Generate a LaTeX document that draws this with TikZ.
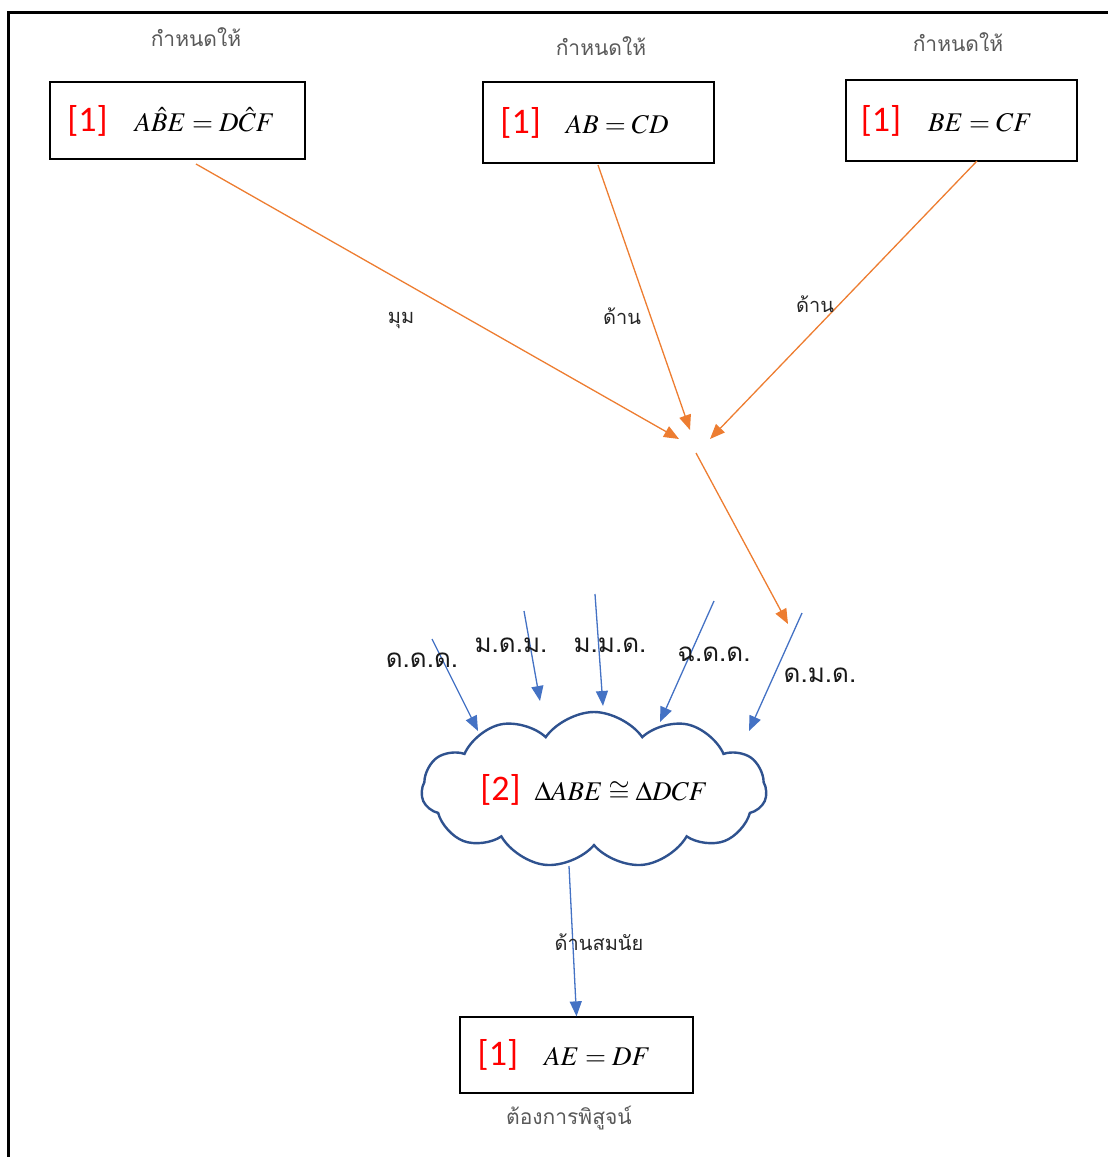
\documentclass[tikz,border=0pt]{standalone}
\usepackage{mathptmx}
\usepackage[no-math]{fontspec}
\usetikzlibrary{arrows.meta,shapes.symbols}
\newfontfamily\thaifont[Script=Thai]{Loma}
\newfontfamily\tagfont{Carlito}
\definecolor{orangeline}{HTML}{ED7D31}
\definecolor{blueline}{HTML}{4472C4}
\definecolor{cloudline}{HTML}{2F528F}
\definecolor{notegray}{HTML}{595959}
\newcommand{\steptag}[1]{{\tagfont\fontsize{36}{40}\selectfont\color{red}[#1]}}
\newcommand{\eqtext}[1]{{\fontsize{27}{32}\selectfont$#1$}}

\tikzset{
  givenbox/.style={draw, line width=1.3pt, inner sep=0pt},
  note/.style={font=\thaifont\fontsize{21}{24}\selectfont, text=notegray},
  edgelabel/.style={font=\thaifont\fontsize{20}{24}\selectfont, text=black!85},
  rulelabel/.style={font=\thaifont\fontsize{26}{30}\selectfont, text=black!90},
  oarrow/.style={draw=orangeline, line width=1.3pt, -{Triangle[length=15pt,width=12pt]}},
  barrow/.style={draw=blueline, line width=1.3pt, -{Triangle[length=15pt,width=12pt]}},
}

\begin{document}
\begin{tikzpicture}[x=1pt,y=-1pt]
\useasboundingbox (0,0) rectangle (1108,1157);
% outer frame
\draw[line width=3pt] (8,1157) -- (8,12) -- (1108,12);

% given facts (a trailing kern moves each statement slightly left of centre)
\node[givenbox, minimum width=255pt, minimum height=77pt] (angle) at (177.5,120.5)
  {\steptag{1}\hspace{27pt}\eqtext{A\hat{B}E = D\hat{C}F}\kern13pt\null};
\node[givenbox, minimum width=231pt, minimum height=81pt] (sideAB) at (598.5,122.5)
  {\steptag{1}\hspace{25pt}\eqtext{AB = CD}\kern28pt\null};
\node[givenbox, minimum width=231pt, minimum height=81pt] (sideBE) at (961.5,120.5)
  {\steptag{1}\hspace{27pt}\eqtext{BE = CF}\kern30pt\null};
\node[note] (g1) at (196,37) {กำหนดให้};
\node[note] (g2) at (601,46) {กำหนดให้};
\node[note] (g3) at (958,42) {กำหนดให้};

% congruence
\node[cloud, cloud ignores aspect, draw=cloudline, line width=2.4pt, cloud puffs=11, cloud puff arc=110,
      minimum width=345pt, minimum height=156pt, inner sep=0pt] (cong) at (594,790)
  {\steptag{2}\hspace{14pt}\eqtext{\Delta ABE \cong \Delta DCF}};

% goal
\node[givenbox, minimum width=233pt, minimum height=76pt] (goal) at (576.5,1055)
  {\steptag{1}\hspace{26pt}\eqtext{AE = DF}\kern25pt\null};
\node[note] (want) at (569,1118) {ต้องการพิสูจน์};

% orange flow: the three givens meet, then lead to ด.ม.ด.
\coordinate (inA) at (679,439);
\coordinate (inB) at (690,430);
\coordinate (inC) at (710,439);
\coordinate (outS) at (696,453);
\coordinate (outE) at (788,624);
\coordinate (sA) at (196,164);
\coordinate (sB) at (598,165);
\coordinate (sC) at (977,161);
\draw[oarrow] (sA) -- (inA);
\draw[oarrow] (sB) -- (inB);
\draw[oarrow] (sC) -- (inC);
\draw[oarrow] (outS) -- (outE);
\node[edgelabel] (lA) at (401,320) {มุม};
\node[edgelabel] (lB) at (622,316) {ด้าน};
\node[edgelabel] (lC) at (815,304) {ด้าน};

% congruence rules into the cloud
\coordinate (r1s) at (432,639); \coordinate (r1e) at (478,731);
\coordinate (r2s) at (524,611); \coordinate (r2e) at (540,701);
\coordinate (r3s) at (595,594); \coordinate (r3e) at (603,706);
\coordinate (r4s) at (714,601); \coordinate (r4e) at (660,722);
\coordinate (r5s) at (802,613); \coordinate (r5e) at (749,731);
\draw[barrow] (r1s) -- (r1e);
\draw[barrow] (r2s) -- (r2e);
\draw[barrow] (r3s) -- (r3e);
\draw[barrow] (r4s) -- (r4e);
\draw[barrow] (r5s) -- (r5e);
\node[rulelabel] (sss) at (422,660) {ด.ด.ด.};
\node[rulelabel] (asa) at (511,645) {ม.ด.ม.};
\node[rulelabel] (aas) at (610,645) {ม.ม.ด.};
\node[rulelabel] (rhs) at (714,654) {ฉ.ด.ด.};
\node[rulelabel] (sas) at (820,675) {ด.ม.ด.};

% corresponding sides
\coordinate (cs) at (569,866);
\draw[barrow] (cs) -- (goal.north);
\node[edgelabel] (corr) at (599,942) {ด้านสมนัย};
\end{tikzpicture}
\end{document}
